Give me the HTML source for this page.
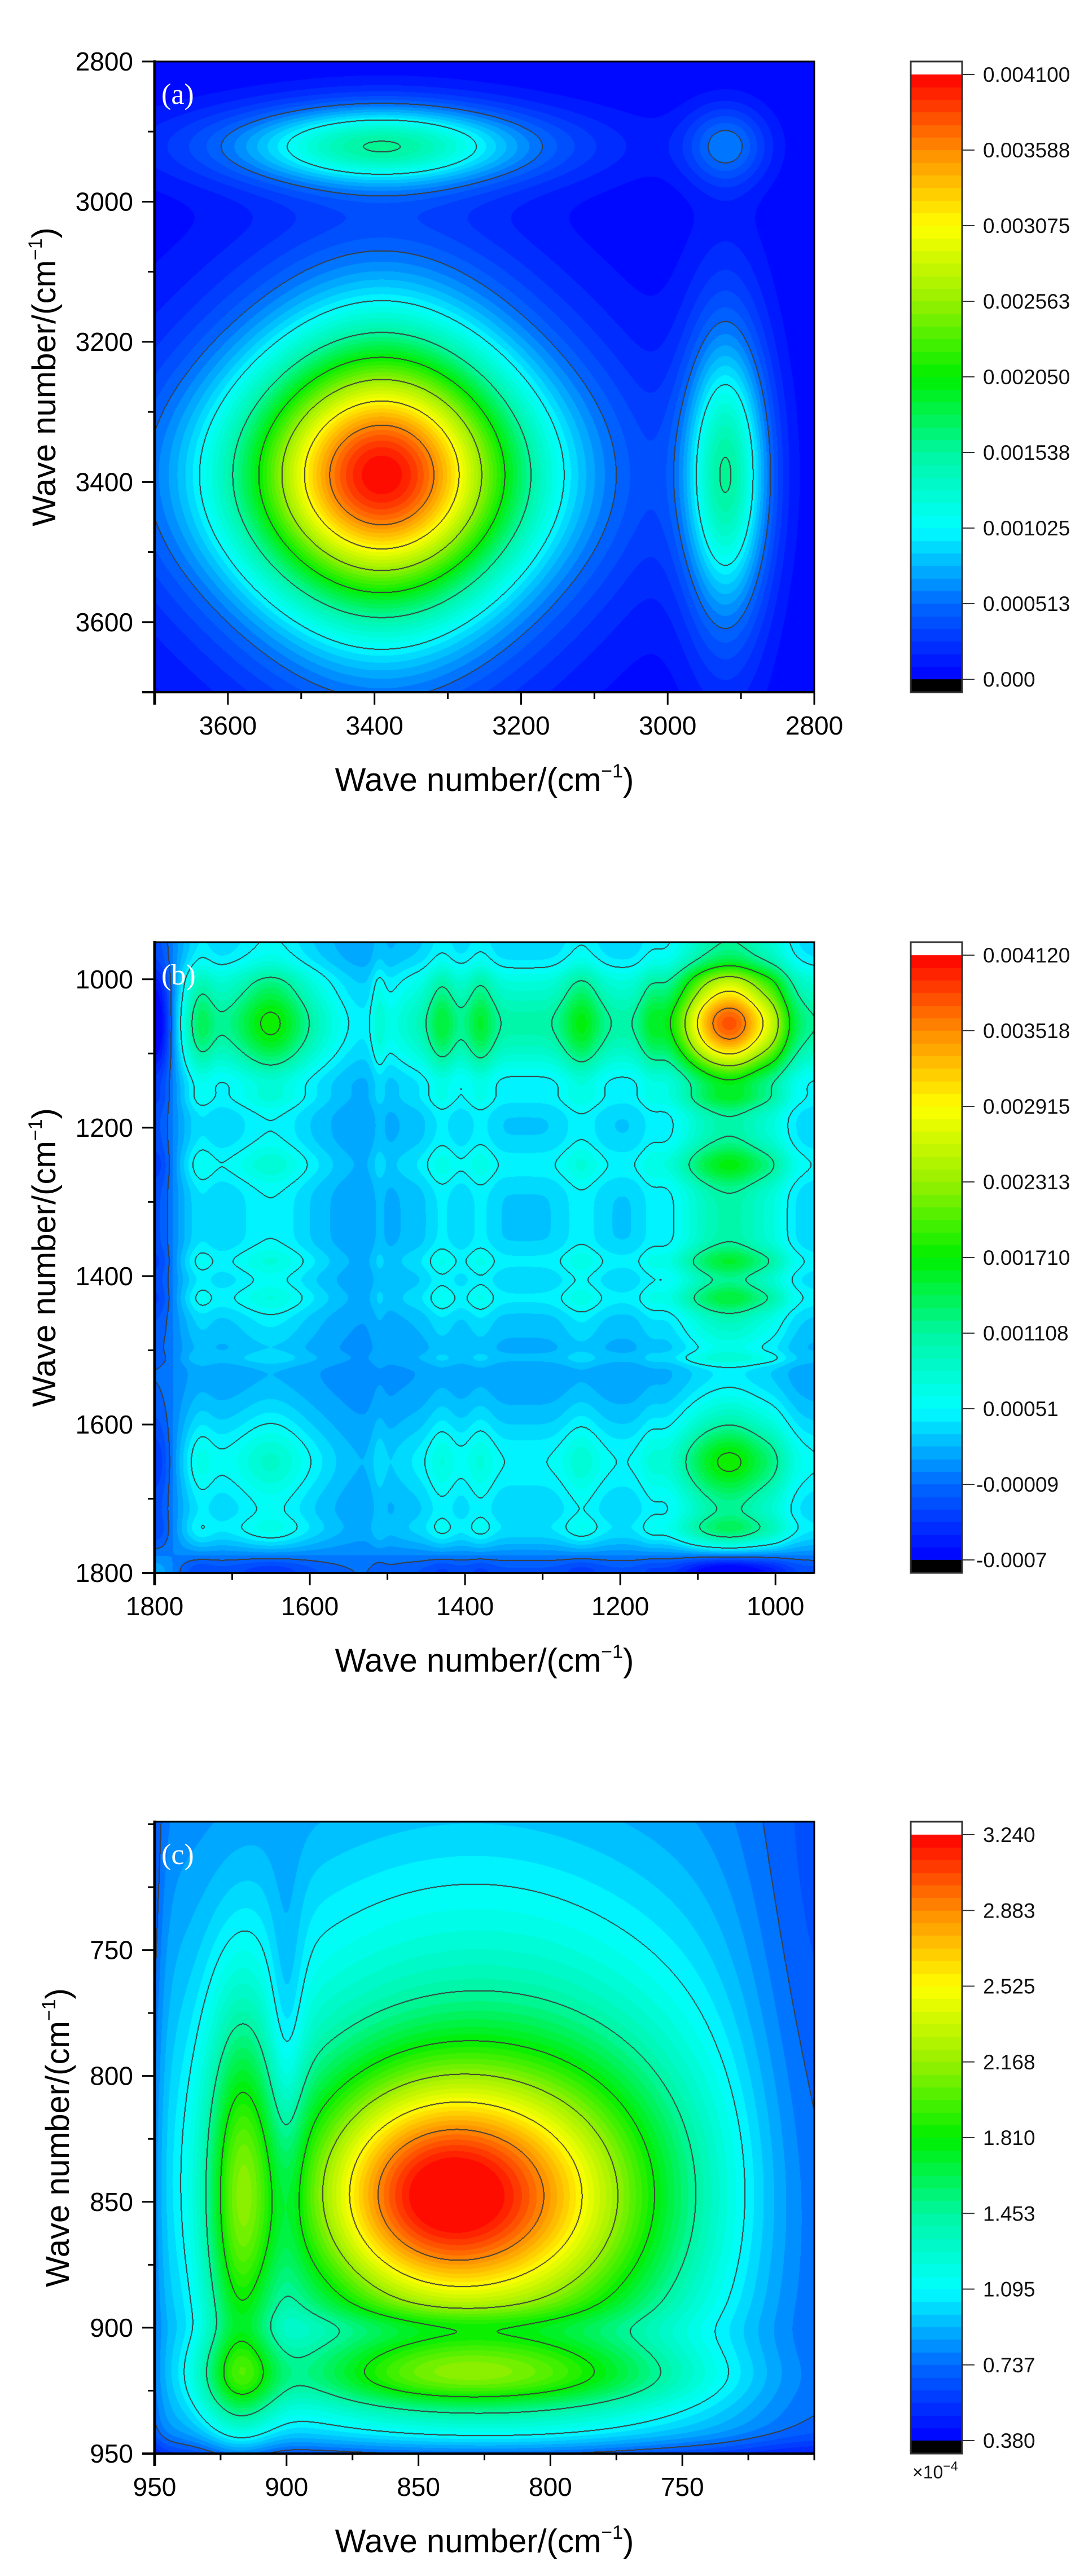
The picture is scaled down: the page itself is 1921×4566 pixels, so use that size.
<!DOCTYPE html>
<html><head><meta charset="utf-8"><title>2D correlation maps</title>
<style>
html,body{margin:0;padding:0;background:#fff;}
#root{position:relative;width:1921px;height:4566px;overflow:hidden;background:#fff;}
canvas{position:absolute;display:block;}
svg{position:absolute;left:0;top:0;}
</style></head>
<body>
<div id="root">
<svg id="ov" width="1921" height="4566"></svg>
</div>
<script>
// ---------- data: panel (a) 1D spectral components (product model) ----------
const aCenters=[3390,3390,2920];
const aWidths=[190,115,40];
const aAmps=[0.030,0.034,0.023];
const aBaseline=0.0;
const aXTicks=[3600,3400,3200,3000,2800];
const aYTicks=[2800,3000,3200,3400,3600];
const aBarLabels=["0.004100","0.003588","0.003075","0.002563","0.002050","0.001538","0.001025","0.000513","0.000"];
// ---------- data: panel (b) ----------
const bCenters=[1050,1100,1000,1160,1250,1380,1430,1650,1740,1530,1511,1800];
const bWidths=[38,30,15,12,18,13,13,30,12,40,7,22];
const bAmps=[0.040,0.014,0.006,0.006,0.010,0.008,0.008,0.012,0.006,-0.010,0.005,-0.030];
const bBaseline=0.017;
const bXTicks=[1800,1600,1400,1200,1000];
const bYTicks=[1000,1200,1400,1600,1800];
const bBarLabels=["0.004120","0.003518","0.002915","0.002313","0.001710","0.001108","0.00051","-0.00009","-0.0007"];
// ---------- data: panel (c) 2D components (×1e-4) ----------
const cCx=[848,795,830,918,850,918,790,820,955,700,900,835];
const cCy=[848,850,835,850,920,920,920,955,800,800,800,900];
const cSx=[34,35,75,9,38,12,40,150,5,20,5,45];
const cSy=[34,40,85,55,9,12,9,7,150,120,50,5];
const cAmp=[1.5,0.8,0.8,0.8,0.5,0.5,0.35,-0.45,-0.3,-0.2,-0.25,-0.2];
const cBaseline=0.75;
const cXTicks=[950,900,850,800,750];
const cYTicks=[750,800,850,900,950];
const cBarLabels=["3.240","2.883","2.525","2.168","1.810","1.453","1.095","0.737","0.380"];

const PL=274, PR=1443, PW=PR-PL;
const panels=[
 {id:'a',top:109,bot:1227,x0:3700,x1:2800,y0:2800,y1:3700,min:0,max:0.0041,xt:aXTicks,yt:aYTicks,minor:100,labels:aBarLabels,ytx:98},
 {id:'b',top:1670,bot:2788,x0:1800,x1:950,y0:950,y1:1800,min:-0.0007,max:0.00412,xt:bXTicks,yt:bYTicks,minor:100,labels:bBarLabels,ytx:98},
 {id:'c',top:3229,bot:4349,x0:950,x1:700,y0:699,y1:950,min:0.38,max:3.24,xt:cXTicks,yt:cYTicks,minor:25,labels:cBarLabels,ytx:122}
];
const NB=48;
const stops=[[0,[0,0,255]],[0.125,[0,105,255]],[0.25,[0,255,255]],[0.375,[0,245,160]],[0.5,[0,240,0]],[0.625,[150,240,0]],[0.75,[255,255,0]],[0.875,[255,140,0]],[1,[255,0,0]]];
function cmap(f){
  for(let i=1;i<stops.length;i++){ if(f<=stops[i][0]){const a=stops[i-1],b=stops[i];const t=(f-a[0])/(b[0]-a[0]);return [0,1,2].map(k=>Math.round(a[1][k]+(b[1][k]-a[1][k])*t));}}
  return stops[stops.length-1][1];
}
const bandCol=[];for(let i=0;i<NB;i++)bandCol.push(cmap((i+0.5)/NB));
function spec(centers,widths,amps,base,v){let s=base;for(let k=0;k<centers.length;k++){const d=(v-centers[k])/widths[k];s+=amps[k]*Math.exp(-0.5*d*d);}return s;}

const root=document.getElementById('root');
const NS='http://www.w3.org/2000/svg';
const ov=document.getElementById('ov');
function el(tag,attrs,parent){const e=document.createElementNS(NS,tag);for(const k in attrs)e.setAttribute(k,attrs[k]);(parent||ov).appendChild(e);return e;}

panels.forEach(p=>{
  const W=PW,H=p.bot-p.top;
  const xs=new Float64Array(W),ys=new Float64Array(H);
  for(let i=0;i<W;i++)xs[i]=p.x0+(p.x1-p.x0)*(i+0.5)/W;
  for(let j=0;j<H;j++)ys[j]=p.y0+(p.y1-p.y0)*(j+0.5)/H;
  const val=new Float32Array(W*H);
  if(p.id==='a'||p.id==='b'){
    const C=p.id==='a'?[aCenters,aWidths,aAmps,aBaseline]:[bCenters,bWidths,bAmps,bBaseline];
    const ax=xs.map(v=>spec(C[0],C[1],C[2],C[3],v)),ay=ys.map(v=>spec(C[0],C[1],C[2],C[3],v));
    for(let j=0;j<H;j++)for(let i=0;i<W;i++)val[j*W+i]=ax[i]*ay[j];
  }else{
    val.fill(cBaseline);
    for(let k=0;k<cCx.length;k++){
      const gx=xs.map(v=>Math.exp(-0.5*((v-cCx[k])/cSx[k])**2)),gy=ys.map(v=>Math.exp(-0.5*((v-cCy[k])/cSy[k])**2));
      for(let j=0;j<H;j++){const g=gy[j]*cAmp[k];if(Math.abs(g)<1e-5)continue;for(let i=0;i<W;i++)val[j*W+i]+=g*gx[i];}
    }
  }
  const cv=document.createElement('canvas');cv.width=W;cv.height=H;cv.style.left=PL+'px';cv.style.top=p.top+'px';
  
  
  root.insertBefore(cv,ov);
  const ctx=cv.getContext('2d');const img=ctx.createImageData(W,H);const d=img.data;
  const rng=p.max-p.min;const lev=new Int8Array(W*H);
  for(let n=0;n<W*H;n++){const f=(val[n]-p.min)/rng;let b=Math.floor(f*NB);b=b<0?0:b>NB-1?NB-1:b;const c=bandCol[b];d[n*4]=c[0];d[n*4+1]=c[1];d[n*4+2]=c[2];d[n*4+3]=255;let L=Math.floor(f*8);L=L<0?0:L>7?7:L;lev[n]=L;}
  const mark=new Uint8Array(W*H);
  for(let j=0;j<H;j++)for(let i=0;i<W;i++){const n=j*W+i;
    if(i<W-1&&lev[n]!==lev[n+1]){mark[n]=1;mark[n+1]=1;}
    if(j<H-1&&lev[n]!==lev[n+W]){mark[n]=1;mark[n+W]=1;}}
  for(let n=0;n<W*H;n++)if(mark[n]){d[n*4]=60;d[n*4+1]=60;d[n*4+2]=60;}
  ctx.putImageData(img,0,0);

  // colorbar
  const cb=document.createElement('canvas');const CBW=91;cb.width=CBW;cb.height=H;cb.style.left='1614px';cb.style.top=p.top+'px';
  
  
  root.insertBefore(cb,ov);
  const cx=cb.getContext('2d');cx.fillStyle='#fff';cx.fillRect(0,0,CBW,23);cx.fillStyle='#000';cx.fillRect(0,H-23,CBW,23);
  const span=H-46;
  for(let b=0;b<NB;b++){const c=bandCol[b];cx.fillStyle='rgb('+c+')';const y0=23+span*(1-(b+1)/NB),y1=23+span*(1-b/NB);cx.fillRect(0,Math.floor(y0),CBW,Math.ceil(y1)-Math.floor(y0));}
  el('rect',{x:1614,y:p.top,width:CBW,height:H,fill:'none',stroke:'#333','stroke-width':3,});
  p.labels.forEach((t,k)=>{const y=p.top+23+span*k/8;
    el('line',{x1:1705,y1:y,x2:1727,y2:y,stroke:'#333','stroke-width':2});
    const tx=el('text',{x:t[0]==='-'?1730:1742,y:y+13,'font-family':'Liberation Sans, sans-serif','font-size':37,fill:'#111'});tx.textContent=t;
    
    
  });
  if(p.id==='c'){const t=el('text',{x:1617,y:p.bot+44,'font-family':'Liberation Sans, sans-serif','font-size':32,fill:'#111',});t.innerHTML='×10<tspan dy="-14" font-size="23">−4</tspan>';}

  // axes
  const sx=v=>PL+(v-p.x0)/(p.x1-p.x0)*PW, sy=v=>p.top+(v-p.y0)/(p.y1-p.y0)*H;
  el('rect',{x:PL,y:p.top,width:PW,height:H,fill:'none',stroke:'#000','stroke-width':3,});
  el('line',{x1:PL,y1:p.top-2,x2:PL,y2:p.bot+22,stroke:'#000','stroke-width':5});
  el('line',{x1:PL-22,y1:p.bot,x2:PR,y2:p.bot,stroke:'#000','stroke-width':4});
  const lo=Math.min(p.x0,p.x1),hi=Math.max(p.x0,p.x1);
  for(let v=Math.ceil(lo/p.minor)*p.minor;v<=hi;v+=p.minor){const x=sx(v);const maj=p.xt.includes(v);el('line',{x1:x,y1:p.bot,x2:x,y2:p.bot+(maj?22:12),stroke:'#000','stroke-width':3});}
  const ylo=Math.min(p.y0,p.y1),yhi=Math.max(p.y0,p.y1);
  for(let v=Math.ceil(ylo/p.minor)*p.minor;v<=yhi;v+=p.minor){const y=sy(v);const maj=p.yt.includes(v);el('line',{x1:PL,y1:y,x2:PL-(maj?22:12),y2:y,stroke:'#000','stroke-width':3});}
  p.xt.forEach(v=>{const t=el('text',{x:sx(v),y:p.bot+75,'text-anchor':'middle','font-family':'Liberation Sans, sans-serif','font-size':46,fill:'#000'});t.textContent=v;
    
    });
  p.yt.forEach(v=>{const t=el('text',{x:236,y:sy(v)+16,'text-anchor':'end','font-family':'Liberation Sans, sans-serif','font-size':46,fill:'#000'});t.textContent=v;
    
    });
  const xt=el('text',{x:(PL+PR)/2,y:p.bot+175,'text-anchor':'middle','font-family':'Liberation Sans, sans-serif','font-size':58,fill:'#000',});
  xt.innerHTML='Wave number/(cm<tspan dy="-24" font-size="34">−1</tspan><tspan dy="24">)</tspan>';
  const cy=(p.top+p.bot)/2;
  const yt=el('text',{x:p.ytx,y:cy,'text-anchor':'middle',transform:'rotate(-90 '+p.ytx+' '+cy+')','font-family':'Liberation Sans, sans-serif','font-size':58,fill:'#000',});
  yt.innerHTML='Wave number/(cm<tspan dy="-24" font-size="34">−1</tspan><tspan dy="24">)</tspan>';
  const pl=el('text',{x:286,y:p.top+75,'font-family':'Liberation Serif, serif','font-size':52,fill:'#fff',});pl.textContent='('+p.id+')';
});
</script>
</body></html>
